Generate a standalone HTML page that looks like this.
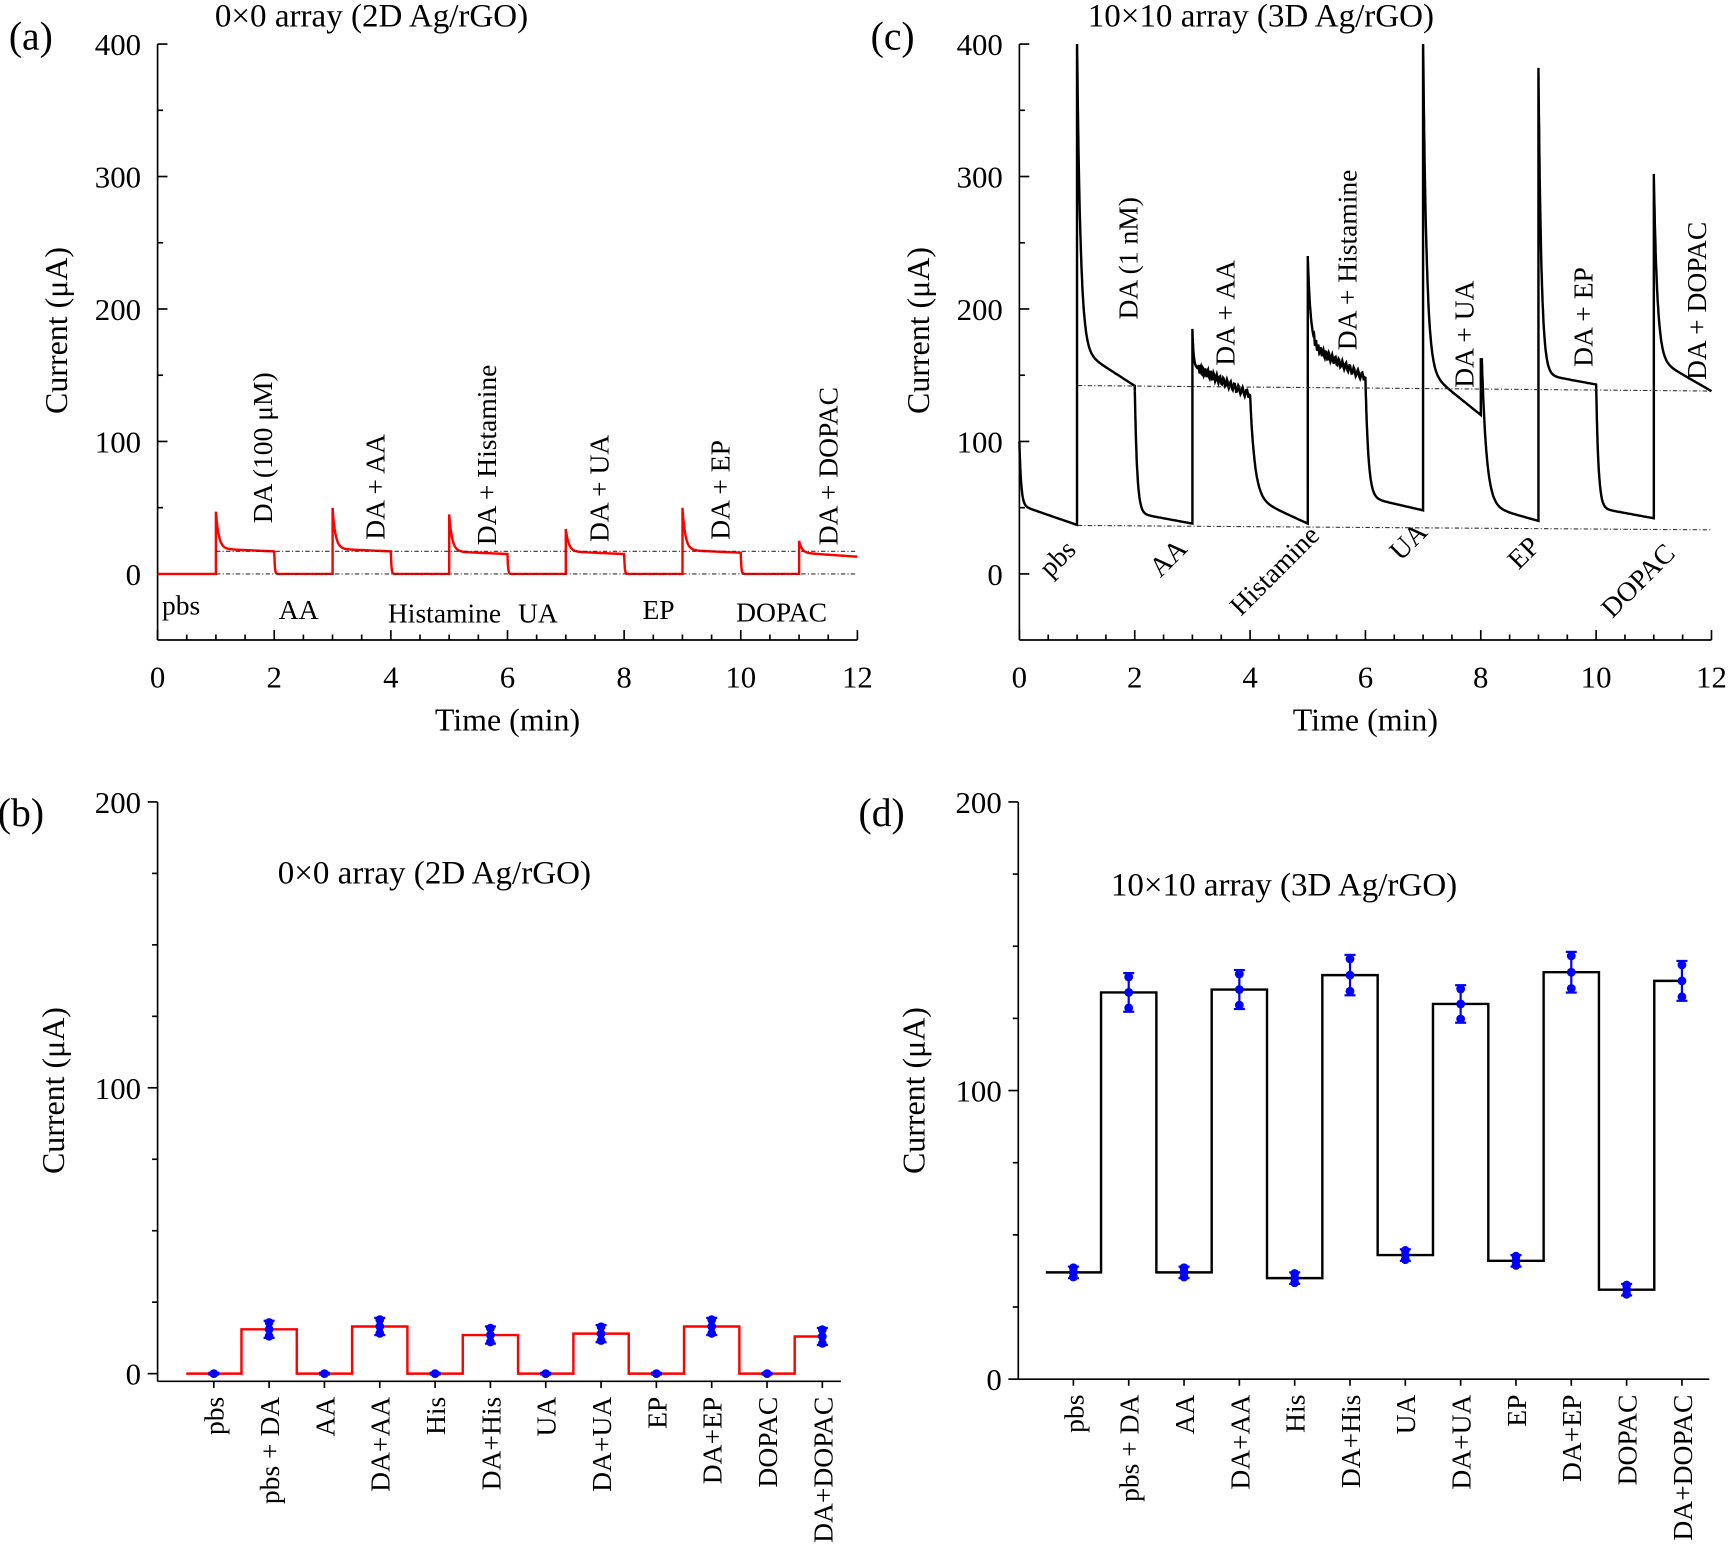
<!DOCTYPE html>
<html><head><meta charset="utf-8"><style>
html,body{margin:0;padding:0;background:#fff}
svg{display:block}
text{font-family:"Liberation Serif",serif;fill:#000}
</style></head><body>
<svg id="s" width="1728" height="1551" viewBox="0 0 1568 1408" preserveAspectRatio="none" xmlns="http://www.w3.org/2000/svg"></svg>
<script>
const S=document.getElementById('s');let h='';
function T(x,y,s,sz,o){o=o||{};let a=o.rot?` transform="rotate(${o.rot} ${x} ${y})"`:'';h+=`<text x="${x}" y="${y}" font-size="${sz}" text-anchor="${o.anc||'start'}"${a}>${s}</text>`;}
function L(x1,y1,x2,y2,c,w,d){h+=`<line x1="${x1}" y1="${y1}" x2="${x2}" y2="${y2}" stroke="${c||'#000'}" stroke-width="${w||1.5}"${d?` stroke-dasharray="${d}"`:''}/>`;}
function timeAxes(x0,x1,title,label,tx){
 const y0=521,yt=40,yb=581;
 L(x0,yt,x0,yb);L(x0,yb,x1,yb);
 for(let v=0;v<=400;v+=50){let y=y0-v*1.2025;L(x0,y,x0+(v%100?5:9),y);if(v%100==0)T(x0-15,y+10,v,28,{anc:'end'});}
 for(let i=0;i<=24;i++){let x=x0+i*(x1-x0)/24;L(x,yb,x,yb-(i%4?5:9));if(i%4==0)T(x,624,i/2,28,{anc:'middle'});}
 T((x0+x1)/2,663,'Time (min)',29,{anc:'middle'});
 T(x0-82,300,'Current (μA)',29,{anc:'middle',rot:-90});
 T(tx,24,title,30);T(x0-135,45,label,36);
}
timeAxes(143,778,'0×0 array (2D Ag/rGO)','(a)',195);
timeAxes(925,1553,'10×10 array (3D Ag/rGO)','(c)',987);
function trace(x0,x1,segs,col,w){
 const sx=(x1-x0)/12,Y=v=>521-v*1.2025;let d='';let first=true;
 for(const g of segs){const [t0,t1,pk,end,Lin,tau,nz]=g;const D=t1-t0;
  for(let k=0;k<=120;k++){let dt=D*Math.pow(k/120,1.6);let v=end+Lin*(1-dt/D)+(pk-end-Lin)*Math.exp(-dt/tau);
   if(nz&&dt>0.1&&dt<0.98*D)v+=Math.sin(k*1.1)*3;
   d+=(first?'M':'L')+(x0+(t0+dt)*sx).toFixed(1)+','+Y(v).toFixed(1);first=false;}}
 h+=`<path d="${d}" fill="none" stroke="${col}" stroke-width="${w}"/>`;
}
trace(143,778,[[0,1,0,0,0,.1],[1,2,47,17,2,.05],[2,3,17,0,0,.01],[3,4,50,17,2,.05],[4,5,17,0,0,.01],[5,6,45,15,2,.05],[6,7,15,0,0,.01],[7,8,34,15,2,.05],[8,9,15,0,0,.01],[9,10,50,16,2,.05],[10,11,16,0,0,.01],[11,12,25,13,3,.05]],'#f00',2.2);
L(196,500.5,778,500.5,'#333',1,'4 2 1 2');L(196,521,778,521,'#333',1,'4 2 1 2');
trace(925,1553,[[0,1,100,37,15,.03],[1,2,400,142,28,.06],[2,3,142,38,8,.04],[3,4,185,135,22,.02,1],[4,5,135,38,20,.08],[5,6,240,148,25,.05,1],[6,7,148,48,10,.05],[7,8,400,120,35,.06],[8,8.02,162,160,0,1],[8.02,9,160,40,12,.08],[9,10,382,143,8,.05],[10,11,143,42,8,.04],[11,12,302,138,25,.06]],'#000',2.2);
L(978,350,1553,355,'#333',1,'4 2 1 2');L(978,477,1553,481,'#333',1,'4 2 1 2');
[['DA (100 μM)',247,475],['DA + AA',349,490],['DA + Histamine',450,495],['DA + UA',552,492],['DA + EP',662,490],['DA + DOPAC',760,495]].forEach(a=>T(a[1],a[2],a[0],25,{rot:-90}));
[['pbs',147,558],['AA',253,562],['Histamine',352,565],['UA',470,565],['EP',583,562],['DOPAC',668,564]].forEach(a=>T(a[1],a[2],a[0],25));
[['DA (1 nM)',1032,290],['DA + AA',1120,332],['DA + Histamine',1231,318],['DA + UA',1337,352],['DA + EP',1445,333],['DA + DOPAC',1548,345]].forEach(a=>T(a[1],a[2],a[0],25,{rot:-90}));
[['pbs',953,525],['AA',1053,525],['Histamine',1126,560],['UA',1271,510],['EP',1378,518],['DOPAC',1463,562]].forEach(a=>T(a[1],a[2],a[0],25,{rot:-45}));
const cats=['pbs','pbs + DA','AA','DA+AA','His','DA+His','UA','DA+UA','EP','DA+EP','DOPAC','DA+DOPAC'];
function barPanel(x0,x1,y0,ybot,cx0,vals,col,title,tx,ty,label){
 const sc=(y0-728)/200;const Y=v=>y0-v*sc;
 L(x0,728,x0,ybot);L(x0,ybot,x1,ybot);
 for(let v=0;v<=200;v+=25){let y=Y(v);L(x0,y,x0-(v%100?5:9),y);if(v%100==0)T(x0-15,y+10,v,28,{anc:'end'});}
 T(x0-85,990,'Current (μA)',29,{anc:'middle',rot:-90});
 T(tx,ty,title,30);T(x0-145,750,label,36);
 let d='M'+(cx0-25)+','+Y(vals[0]);
 for(let i=0;i<12;i++){let cx=cx0+i*50.2;
  if(i>0){let mx=cx-25.1;d+='L'+mx+','+Y(vals[i-1])+'L'+mx+','+Y(vals[i]);}
  L(cx,ybot,cx,ybot+6);
  T(cx+9,ybot+14,cats[i],25,{anc:'end',rot:-90});
 }
 d+='L'+(cx0+11*50.2)+','+Y(vals[11]);
 h+=`<path d="${d}" fill="none" stroke="${col}" stroke-width="2.2"/>`;
 for(let i=0;i<12;i++){let cx=cx0+i*50.2,v=vals[i],e=v>50||i%2?Math.max(3,v*0.05):(v>5?2:0.3);
  L(cx,Y(v-e),cx,Y(v+e),'#00f',2);L(cx-5,Y(v+e),cx+5,Y(v+e),'#00f',2);L(cx-5,Y(v-e),cx+5,Y(v-e),'#00f',2);
  [v-e*0.8,v,v+e*0.8].forEach((p,j)=>{if(e<1&&j!=1)return;h+=`<circle cx="${cx}" cy="${Y(p)}" r="4" fill="#00f"/>`;});}
}
barPanel(143,763,1247,1254,194,[0,15.5,0,16.5,0,13.5,0,14,0,16.5,0,13],'#f00','0×0 array (2D Ag/rGO)',252,802,'(b)');
barPanel(924,1551,1252,1252,974,[37,134,37,135,35,140,43,130,41,141,31,138],'#000','10×10 array (3D Ag/rGO)',1008,813,'(d)');
S.innerHTML=h;
</script>
</body></html>
